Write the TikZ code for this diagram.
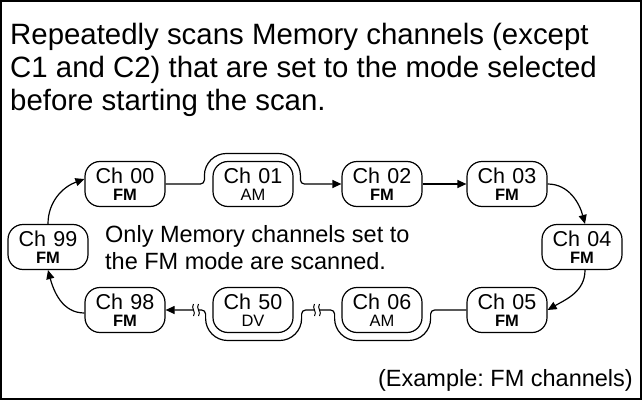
\documentclass[tikz,border=0pt]{standalone}
\usepackage{fontspec}
\setmainfont{Liberation Sans}
\usetikzlibrary{arrows.meta}
\frenchspacing

\newcommand{\modefont}{\fontsize{16.5}{17}\selectfont}
% break mark on the skipped part of the line
\newcommand{\breakmark}[1]{%
  \fill[white,shift={(#1)}] (-2.5,-7) rectangle (2.5,7);
  \draw[line width=1pt,shift={(#1)}] (-2.5,-6) .. controls (0.5,-2) and (-5.5,2) .. (-2.5,6)
    (2.5,-6) .. controls (5.5,-2) and (-0.5,2) .. (2.5,6);}

\tikzset{
  chan/.style={draw, line width=1.2pt, rounded corners=15pt, minimum width=80pt,
    minimum height=45pt, inner sep=0pt, text width=78pt, align=center,
    font=\fontsize{21.5}{17}\selectfont},
  arr/.style={line width=1.2pt, -{Triangle[length=9pt,width=8pt]}},
  link/.style={line width=1.2pt}
}

\begin{document}
\begin{tikzpicture}[x=1pt,y=1pt]
	\useasboundingbox (0,0) rectangle (642,400);
	\draw[line width=2pt] (1,1) rectangle (641,399);
	
	\node[anchor=north west, inner sep=0pt, align=left, font=\fontsize{29.4}{33}\selectfont] (intro) at (10,377.5)
		{Repeatedly scans Memory channels (except\\C1 and C2) that are set to the mode selected\\before starting the scan.};
	
	\node[chan] (ch00) at (125,216) {Ch 00\\{\modefont\bfseries FM}};
	\node[chan] (ch01) at (253,216) {Ch 01\\{\modefont AM}};
	\node[chan] (ch02) at (382,216) {Ch 02\\{\modefont\bfseries FM}};
	\node[chan] (ch03) at (507,216) {Ch 03\\{\modefont\bfseries FM}};
	\node[chan] (ch04) at (582,153) {Ch 04\\{\modefont\bfseries FM}};
	\node[chan] (ch05) at (507,90) {Ch 05\\{\modefont\bfseries FM}};
	\node[chan] (ch06) at (382,90) {Ch 06\\{\modefont AM}};
	\node[chan] (ch50) at (253,90) {Ch 50\\{\modefont DV}};
	\node[chan] (ch98) at (125,90) {Ch 98\\{\modefont\bfseries FM}};
	\node[chan] (ch99) at (48,153) {Ch 99\\{\modefont\bfseries FM}};
	
	\node[anchor=north west, inner sep=0pt, align=left, font=\fontsize{23.5}{27}\selectfont] (note) at (105,175)
		{Only Memory channels set to\\the FM mode are scanned.};
	\node[anchor=base east, inner sep=0pt, font=\fontsize{23.5}{27}\selectfont] (example) at (633,14) {(Example: FM channels)};
	
	% top row, Ch 01 is passed over
	\draw[arr] (ch00.east) -- ([xshift=-12pt]ch01.west) arc[start angle=-90,end angle=0,radius=4pt]
		-- ++(0,4.5) arc[start angle=180,end angle=90,radius=22pt] -- ++(52,0)
		arc[start angle=90,end angle=0,radius=22pt] -- ++(0,-4.5)
		arc[start angle=180,end angle=270,radius=4pt] -- (ch02.west);
	\draw[arr] (ch02) -- (ch03);
	\draw[arr] (ch03.east) to[out=0,in=105] ([xshift=3pt]ch04.north);
	\draw[arr] ([xshift=3pt]ch04.south) to[out=-90,in=30] (ch05.east);
	
	% bottom row, Ch 06 and Ch 50 are passed over
	\draw[arr] (ch05.west) -- ([xshift=12pt]ch06.east) arc[start angle=90,end angle=180,radius=4pt]
		-- ++(0,-4.5) arc[start angle=0,end angle=-90,radius=22pt] -- ++(-52,0)
		arc[start angle=-90,end angle=-180,radius=22pt] -- ++(0,4.5)
		arc[start angle=0,end angle=90,radius=4pt]
		-- ([xshift=12pt]ch50.east) arc[start angle=90,end angle=180,radius=4pt]
		-- ++(0,-4.5) arc[start angle=0,end angle=-90,radius=22pt] -- ++(-52,0)
		arc[start angle=-90,end angle=-180,radius=22pt] -- ++(0,4.5)
		arc[start angle=0,end angle=90,radius=4pt] -- (ch98.east);
	\coordinate (gap1) at (317,90);
	\coordinate (gap2) at (196,90);
	\breakmark{gap1}
	\breakmark{gap2}
	
	\draw[arr] ([yshift=-3pt]ch98.west) to[out=180,in=-75] (ch99.south);
	\draw[arr] (ch99.north) to[out=90,in=200] ([yshift=5pt]ch00.west);
\end{tikzpicture}
\end{document}
